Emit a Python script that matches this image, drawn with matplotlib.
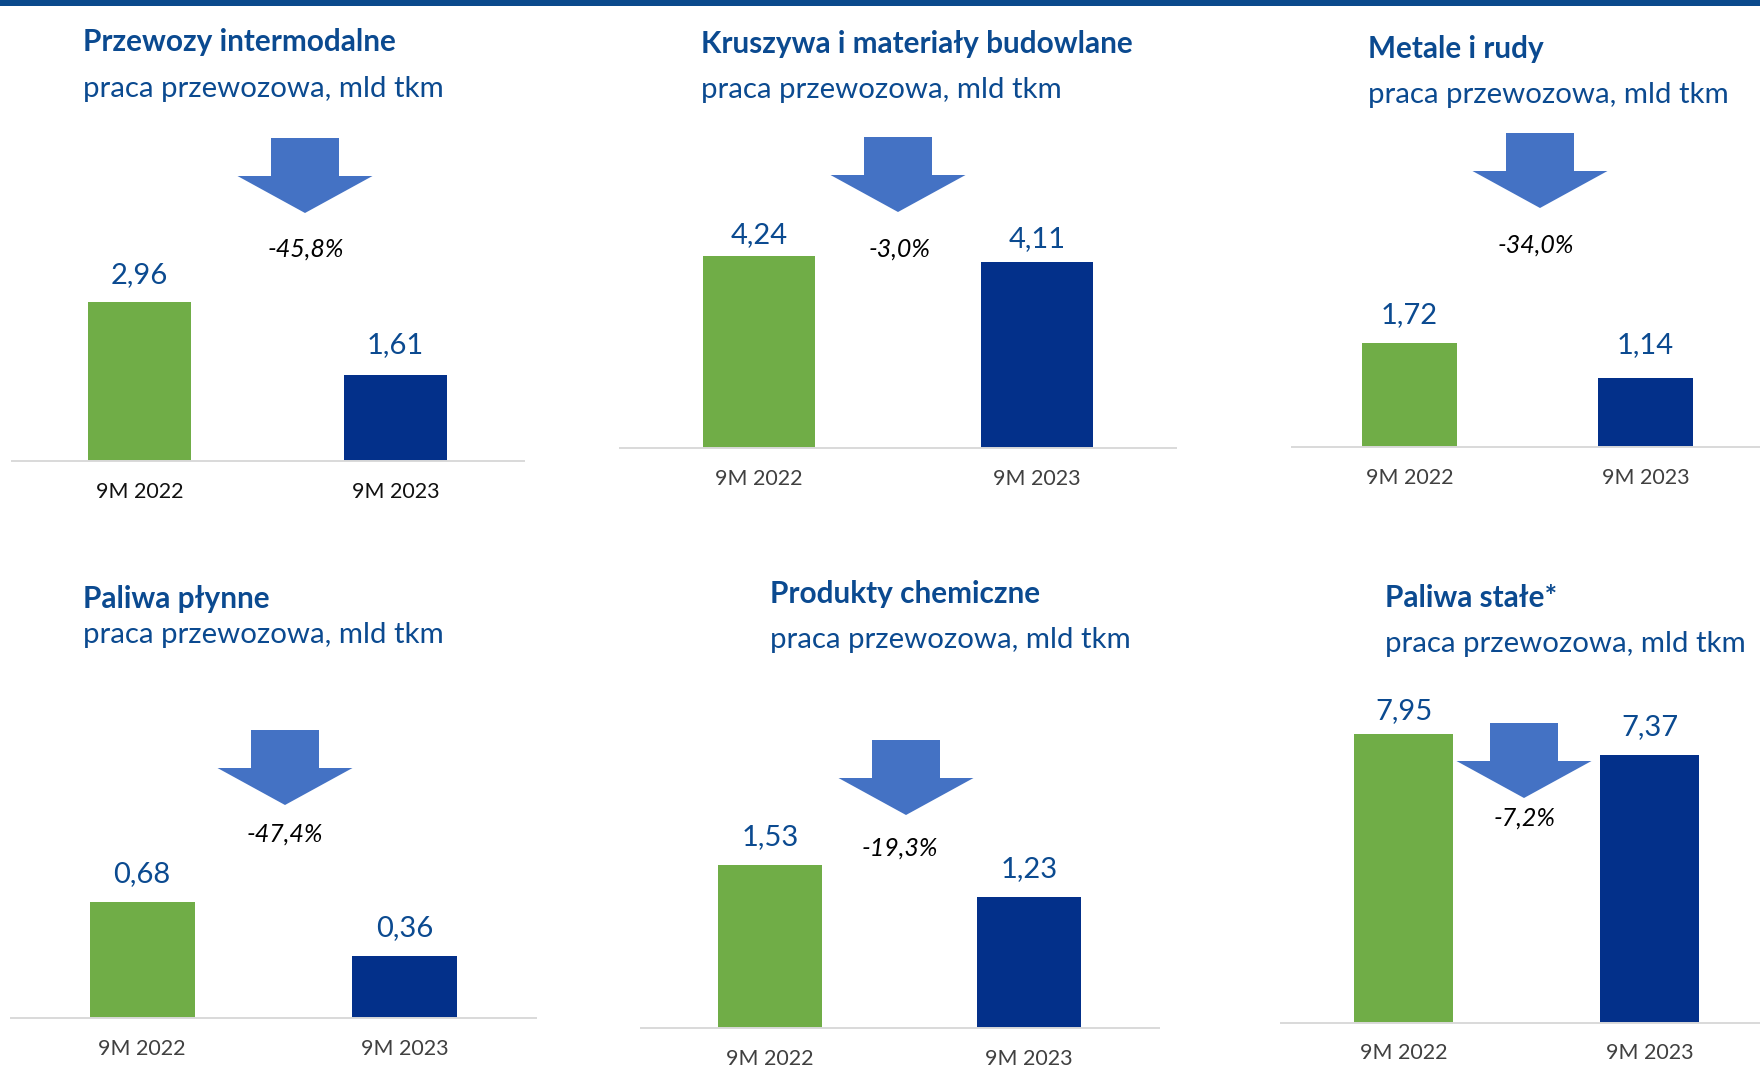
import matplotlib
matplotlib.use("Agg")
import matplotlib.pyplot as plt
from matplotlib.patches import Polygon, Rectangle

plt.rcParams['font.family'] = ['Lato', 'DejaVu Sans']

# ---------------- data ----------------
titles = ["Przewozy intermodalne", "Kruszywa i materiały budowlane", "Metale i rudy",
          "Paliwa płynne", "Produkty chemiczne", "Paliwa stałe*"]
subtitle = "praca przewozowa, mld tkm"
categories = ["9M 2022", "9M 2023"]
values_2022 = [2.96, 4.24, 1.72, 0.68, 1.53, 7.95]
values_2023 = [1.61, 4.11, 1.14, 0.36, 1.23, 7.37]
changes = ["-45,8%", "-3,0%", "-34,0%", "-47,4%", "-19,3%", "-7,2%"]

# ---------------- layout (pixels, y from top) ----------------
W, H = 1760, 1069
# first bar centre, bar spacing, axis-line y, pixels per unit
panel_geom = [
    (139.5, 256, 461, 53.6),
    (759, 278, 448, 45.3),
    (1409.5, 236, 447, 60.5),
    (142, 262.5, 1018, 171),
    (770, 259, 1028, 106.4),
    (1403.5, 246, 1022.5, 36.25),
]
label_gap = [(19, 22), (13, 15), (20, 25), (20, 20), (20, 20), (15, 20)]
title_pos = [(83, 51, 97), (701, 53, 98), (1368, 58, 103),
             (83, 608, 643), (770, 603, 648), (1385, 607, 652)]
arrow_pos = [(305, 138), (898, 137), (1540, 133), (285, 730), (906, 740), (1524, 723)]
pct_pos = [(306, 257), (900, 257), (1536, 253), (285, 841.5), (900, 855.5), (1525, 825.5)]
catlabel_colors = ["#111111", "#404040", "#404040", "#404040", "#404040", "#404040"]

GREEN = "#70AD47"
NAVY = "#03308A"
TBLUE = "#0B4A90"
ARROW = "#4472C4"
PT = 72 / 100  # points per pixel

fig = plt.figure(figsize=(W / 100, H / 100), dpi=100)
fig.patch.set_facecolor("white")


def fx(x):
    return x / W


def fy(y):
    return 1 - y / H


# top band
fig.patches.append(Rectangle((0, fy(6)), 1, 6 / H, transform=fig.transFigure,
                             facecolor="#0B4A8C", edgecolor="none"))

AX_H = 340
for i in range(6):
    c0, s, ay, ppu = panel_geom[i]
    x0 = c0 - 0.5 * s
    x1 = c0 + 1.5 * s
    ax = fig.add_axes([fx(x0), fy(ay), (x1 - x0) / W, AX_H / H])
    ax.set_xlim(-0.5, 1.5)
    ax.set_ylim(0, AX_H / ppu)
    vals = [values_2022[i], values_2023[i]]
    ax.bar([0, 1], vals, width=0.4, color=[GREEN, NAVY])
    for x, v, g in zip([0, 1], vals, label_gap[i]):
        ax.annotate(f"{v:.2f}".replace(".", ","), (x, v), xytext=(0, g * PT),
                    textcoords="offset points", ha="center", va="baseline",
                    fontsize=21, color=TBLUE, annotation_clip=False)
    for sp in ["top", "left", "right"]:
        ax.spines[sp].set_visible(False)
    ax.spines["bottom"].set_color("#D9D9D9")
    ax.spines["bottom"].set_linewidth(1.4)
    ax.set_yticks([])
    ax.set_xticks([0, 1])
    ax.set_xticklabels(categories, fontsize=15.5, color=catlabel_colors[i])
    ax.tick_params(axis="x", length=0, pad=22)
    for lab in ax.get_xticklabels():
        lab.set_va("center")
    ax.patch.set_alpha(0)

    # titles
    tx, tby, sby = title_pos[i]
    fig.text(fx(tx), fy(tby), titles[i], fontsize=21.4, fontweight="bold",
             color=TBLUE, ha="left", va="baseline")
    fig.text(fx(tx), fy(sby), subtitle, fontsize=21.2, color=TBLUE,
             ha="left", va="baseline")

    # arrow
    ax_c, top = arrow_pos[i]
    sw, hw, sh, hh = 34, 67.5, 38, 37
    pts = [(ax_c - sw, top), (ax_c + sw, top), (ax_c + sw, top + sh),
           (ax_c + hw, top + sh), (ax_c, top + sh + hh), (ax_c - hw, top + sh),
           (ax_c - sw, top + sh)]
    fig.patches.append(Polygon([(fx(a), fy(b)) for a, b in pts], closed=True,
                               transform=fig.transFigure, facecolor=ARROW,
                               edgecolor="none"))
    px, py = pct_pos[i]
    fig.text(fx(px), fy(py), changes[i], fontsize=18, style="italic",
             color="black", ha="center", va="baseline")

fig.savefig("out.png", dpi=100)
